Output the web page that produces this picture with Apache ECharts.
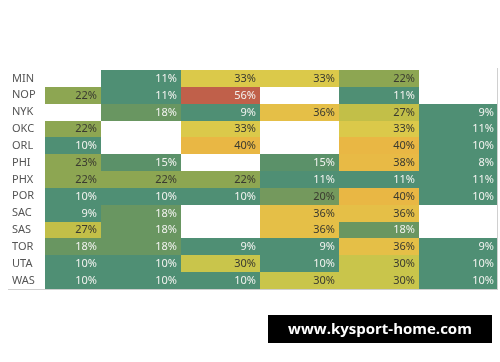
<!DOCTYPE html>
<html>
<head>
<meta charset="utf-8">
<script src="https://cdn.jsdelivr.net/npm/echarts@6/dist/echarts.min.js"></script>
<style>html,body{margin:0;padding:0;background:#fff;}#c{width:500px;height:362px;}</style>
</head>
<body>
<div id="c"></div>
<script>
const teams = ['MIN','NOP','NYK','OKC','ORL','PHI','PHX','POR','SAC','SAS','TOR','UTA','WAS'];
const columns = [0, 1, 2, 3, 4, 5];
const MIN = [null, 11, 33, 33, 22, null];
const NOP = [22, 11, 56, null, 11, null];
const NYK = [null, 18, 9, 36, 27, 9];
const OKC = [22, null, 33, null, 33, 11];
const ORL = [10, null, 40, null, 40, 10];
const PHI = [23, 15, null, 15, 38, 8];
const PHX = [22, 22, 22, 11, 11, 11];
const POR = [10, 10, 10, 20, 40, 10];
const SAC = [9, 18, null, 36, 36, null];
const SAS = [27, 18, null, 36, 18, null];
const TOR = [18, 18, 9, 9, 36, 9];
const UTA = [10, 10, 30, 10, 30, 10];
const WAS = [10, 10, 10, 30, 30, 10];
const rows = [MIN, NOP, NYK, OKC, ORL, PHI, PHX, POR, SAC, SAS, TOR, UTA, WAS];

const data = [];
rows.forEach((r, yi) => {
  r.forEach((v, xi) => {
    if (v !== null) data.push([columns[xi], yi, v]);
  });
});

const chart = echarts.init(document.getElementById('c'), null, {renderer: 'canvas'});
const FONT = '"Noto Sans", "Open Sans", sans-serif';

chart.setOption({
  backgroundColor: '#ffffff',
  animation: false,
  grid: {left: 45, right: 2, top: 70, bottom: 73},
  xAxis: {
    type: 'value', min: -0.21, max: 5.5,
    show: false
  },
  yAxis: {
    type: 'category', data: teams, inverse: true,
    axisLine: {show: false}, axisTick: {show: false}, splitLine: {show: false},
    axisLabel: {align: 'left', margin: 33, color: '#555555', fontSize: 11, fontFamily: FONT}
  },
  visualMap: {
    type: 'piecewise', show: false, dimension: 2, seriesIndex: 0,
    pieces: [
      {lt: 12, color: '#4f8f74'},
      {gte: 12, lt: 16, color: '#5b9169'},
      {gte: 16, lt: 19, color: '#699661'},
      {gte: 19, lt: 21, color: '#74995d'},
      {gte: 21, lt: 25, color: '#8da652'},
      {gte: 25, lt: 28, color: '#c2bf48'},
      {gte: 28, lt: 32, color: '#c9c54b'},
      {gte: 32, lt: 35, color: '#dbc94a'},
      {gte: 35, lt: 37, color: '#e5bf47'},
      {gte: 37, lt: 39, color: '#e8ba45'},
      {gte: 39, lt: 45, color: '#e9b744'},
      {gte: 45, color: '#c0604a'}
    ]
  },
  series: [{
    type: 'custom',
    data: data,
    encode: {x: 0, y: 1},
    renderItem: function (params, api) {
      const x = api.value(0), y = api.value(1), v = api.value(2);
      const p0 = api.coord([x - 0.5, y]);
      const p1 = api.coord([x + 0.5, y]);
      const h = api.size([0, 1])[1];
      const x0 = Math.round(p0[0]), x1 = Math.round(p1[0]);
      const y0 = Math.round(p0[1] - h / 2), y1 = Math.round(p0[1] + h / 2);
      const cs = params.coordSys;
      const rect = echarts.graphic.clipRectByRect(
        {x: x0, y: y0, width: x1 - x0, height: y1 - y0},
        {x: Math.round(cs.x), y: Math.round(cs.y), width: Math.round(cs.width), height: Math.round(cs.height)}
      );
      if (!rect) return;
      const light = v < 20 || v > 45;
      return {
        type: 'group',
        children: [
          {type: 'rect', shape: rect, style: {fill: api.visual('color')}},
          {type: 'text', style: {
            text: v + '%', x: rect.x + rect.width - 4, y: rect.y + rect.height / 2,
            align: 'right', verticalAlign: 'middle',
            fill: light ? '#f3f3f0' : '#3a3a30', font: '11px ' + FONT
          }}
        ]
      };
    }
  }],
  graphic: [
    {type: 'line', shape: {x1: 8, y1: 289.5, x2: 498, y2: 289.5}, style: {stroke: '#cfcfcf', lineWidth: 1}, z: 10},
    {type: 'line', shape: {x1: 497.5, y1: 68, x2: 497.5, y2: 289}, style: {stroke: '#d0d0d0', lineWidth: 1}, z: 10},
    {type: 'rect', shape: {x: 268, y: 315, width: 224, height: 28}, style: {fill: '#000000'}, z: 10},
    {type: 'text', style: {text: 'www.kysport-home.com', x: 380, y: 329.5, align: 'center', verticalAlign: 'middle',
      fill: '#ffffff', font: 'bold 15px "Open Sans", "DejaVu Sans", sans-serif'}, z: 11}
  ]
});
</script>
</body>
</html>
